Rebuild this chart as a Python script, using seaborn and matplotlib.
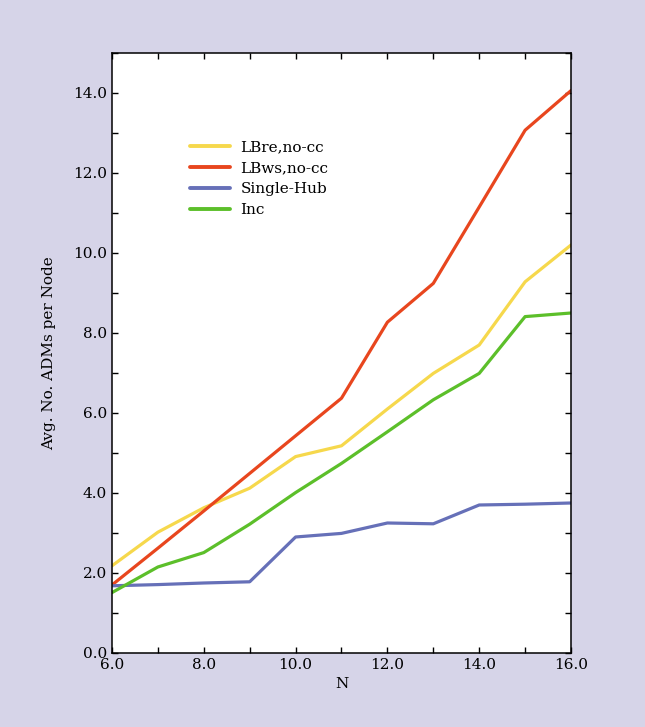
import matplotlib
matplotlib.use("Agg")
import matplotlib.pyplot as plt
from matplotlib.ticker import MultipleLocator, FormatStrFormatter
import seaborn as sns
import pandas as pd

n_values = [6, 7, 8, 9, 10, 11, 12, 13, 14, 15, 16]
lbre_nocc = [2.18, 3.02, 3.63, 4.12, 4.91, 5.18, 6.10, 6.99, 7.70, 9.28, 10.20]
lbws_nocc = [1.70, 2.62, 3.55, 4.49, 5.43, 6.37, 8.27, 9.24, 11.15, 13.07, 14.06]
single_hub = [1.68, 1.71, 1.75, 1.78, 2.90, 2.99, 3.25, 3.23, 3.70, 3.72, 3.75]
inc = [1.51, 2.15, 2.51, 3.22, 4.01, 4.74, 5.53, 6.33, 6.99, 8.41, 8.50]

series = {
    "LBre,no-cc": lbre_nocc,
    "LBws,no-cc": lbws_nocc,
    "Single-Hub": single_hub,
    "Inc": inc,
}
colors = ["#f6d84c", "#e8461e", "#6670b8", "#5cbf2a"]

rows = []
for name, vals in series.items():
    for n, v in zip(n_values, vals):
        rows.append({"N": n, "value": v, "method": name})
df = pd.DataFrame(rows)

sns.set_style("ticks")
plt.rcParams["font.family"] = ["DejaVu Serif"]
plt.rcParams["font.size"] = 11

fig = plt.figure(figsize=(6.45, 7.27), dpi=100)
fig.patch.set_facecolor("#d6d4e8")
ax = fig.add_axes([0.1736, 0.1018, 0.7117, 0.8253])
ax.set_facecolor("white")

sns.lineplot(data=df, x="N", y="value", hue="method",
             hue_order=list(series.keys()), palette=colors,
             linewidth=2.3, ax=ax)

ax.set_xlim(6, 16)
ax.set_ylim(0, 15)
ax.xaxis.set_major_locator(MultipleLocator(2))
ax.xaxis.set_minor_locator(MultipleLocator(1))
ax.yaxis.set_major_locator(MultipleLocator(2))
ax.yaxis.set_minor_locator(MultipleLocator(1))
ax.xaxis.set_major_formatter(FormatStrFormatter("%.1f"))
ax.yaxis.set_major_formatter(FormatStrFormatter("%.1f"))
ax.tick_params(which="both", direction="in", top=True, right=True,
               length=4, width=1, labelsize=11, color="black", labelcolor="black")
for sp in ax.spines.values():
    sp.set_color("black")
    sp.set_linewidth(1.1)

ax.set_xlabel("N", fontsize=11, color="black")
ax.set_ylabel("Avg. No. ADMs per Node", fontsize=11, color="black", labelpad=12)

leg = ax.legend(loc="upper left", bbox_to_anchor=(0.14, 0.877), frameon=False,
                fontsize=11, handlelength=2.6, handletextpad=0.7,
                labelspacing=0.45, title=None)
for line in leg.get_lines():
    line.set_linewidth(2.8)
for t in leg.get_texts():
    t.set_color("black")

fig.savefig("out.png", dpi=100, facecolor=fig.get_facecolor())
